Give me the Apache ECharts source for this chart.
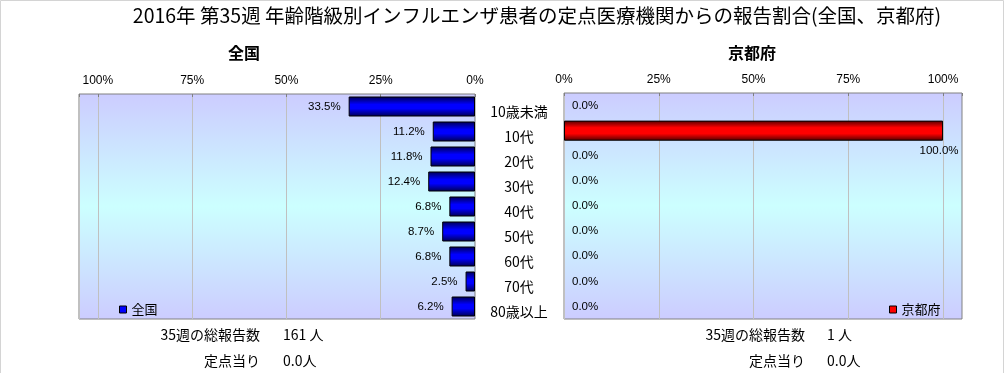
<!DOCTYPE html>
<html><head><meta charset="utf-8">
<script src="https://cdn.jsdelivr.net/npm/echarts@6/dist/echarts.min.js"></script>
<style>html,body{margin:0;padding:0;background:#fff}#c{width:1006px;height:373px}</style>
</head><body><div id="c"></div>
<script>
const categories = ['10歳未満','10代','20代','30代','40代','50代','60代','70代','80歳以上'];
const nationalValues = [33.5, 11.2, 11.8, 12.4, 6.8, 8.7, 6.8, 2.5, 6.2];
const kyotoValues = [0, 100, 0, 0, 0, 0, 0, 0, 0];
const tickValues = [0, 25, 50, 75, 100];
const titleText = '2016年 第35週 年齢階級別インフルエンザ患者の定点医療機関からの報告割合(全国、京都府)';
const leftName = '全国', rightName = '京都府';
const leftStats = ['35週の総報告数', '161 人', '定点当り', '0.0人'];
const rightStats = ['35週の総報告数', '1 人', '定点当り', '0.0人'];

const FONT = '"Noto Sans CJK JP", sans-serif';
const NUMFONT = '"Liberation Sans", Arial, sans-serif';
const bg = {type:'linear',x:0,y:0,x2:0,y2:1,colorStops:[
  {offset:0,color:'#CCCCFF'},{offset:0.5,color:'#CCFFFF'},{offset:1,color:'#CCCCFF'}]};
const blueGrad = {type:'linear',x:0,y:0,x2:0,y2:1,colorStops:[
  {offset:0,color:'#000050'},{offset:0.4,color:'#0000FF'},{offset:0.6,color:'#0000FF'},{offset:1,color:'#000050'}]};
const redGrad = {type:'linear',x:0,y:0,x2:0,y2:1,colorStops:[
  {offset:0,color:'#500000'},{offset:0.35,color:'#FF0000'},{offset:0.65,color:'#FF0000'},{offset:1,color:'#500000'}]};

function xAx(gridIndex, inverse){
  return {type:'value', gridIndex, inverse, position:'top', min:0, max:105, interval:25,
    axisLine:{show:false},
    axisTick:{show:true, inside:true, length:3, lineStyle:{color:'#808080'}},
    splitLine:{show:true, lineStyle:{color:'#C0C0C0', width:1}},
    axisLabel:{margin:7, color:'#000', fontSize:12, fontFamily:NUMFONT,
      formatter: v => tickValues.indexOf(v) >= 0 ? v + '%' : ''}};
}
const pct = p => p.value.toFixed(1) + '%';

const chart = echarts.init(document.getElementById('c'));
chart.setOption({
  animation:false,
  backgroundColor:'#fff',
  grid:[
    {left:79, top:94, width:396, height:225, show:true, backgroundColor:bg, borderColor:'#808080', borderWidth:1},
    {left:564, top:93, width:398, height:226, show:true, backgroundColor:bg, borderColor:'#808080', borderWidth:1}
  ],
  xAxis:[xAx(0,true), xAx(1,false)],
  yAxis:[
    {type:'category', gridIndex:0, data:categories, inverse:true, position:'right',
      axisLine:{show:false}, axisTick:{show:false},
      axisLabel:{margin:44, align:'center', verticalAlign:'top', lineHeight:10, color:'#000', fontSize:14, fontFamily:FONT}},
    {type:'category', gridIndex:1, data:categories, inverse:true,
      axisLine:{show:false}, axisTick:{show:false}, axisLabel:{show:false}}
  ],
  legend:[
    {data:[{name:leftName, itemStyle:{color:'#0000FF', borderColor:'#000', borderWidth:1}}],
      left:114, top:298, icon:'rect', itemWidth:7, itemHeight:7,
      textStyle:{color:'#000', fontSize:13, fontFamily:FONT}},
    {data:[{name:rightName, itemStyle:{color:'#FF0000', borderColor:'#000', borderWidth:1}}],
      left:884, top:298, icon:'rect', itemWidth:7, itemHeight:7,
      textStyle:{color:'#000', fontSize:13, fontFamily:FONT}}
  ],
  series:[
    {type:'bar', name:leftName, xAxisIndex:0, yAxisIndex:0, barCategoryGap:'20%',
      data:nationalValues.map(v => ({value:v})),
      itemStyle:{color:blueGrad, borderColor:'#000', borderWidth:1},
      label:{show:true, position:'left', distance:8, formatter:pct, color:'#000', fontSize:11.5, fontFamily:NUMFONT}},
    {type:'bar', name:rightName, xAxisIndex:1, yAxisIndex:1, barCategoryGap:'20%',
      data:kyotoValues.map(v => v === 0
        ? {value:v, itemStyle:{borderWidth:0}}
        : {value:v, label:{position:['100%','100%'], offset:[-4,4], align:'center', verticalAlign:'top'}}),
      itemStyle:{color:redGrad, borderColor:'#000', borderWidth:1},
      label:{show:true, position:'right', distance:8, formatter:pct, color:'#000', fontSize:11.5, fontFamily:NUMFONT}}
  ],
  graphic:[
    {type:'rect', shape:{x:0.5, y:0.5, width:1003, height:380}, style:{fill:'none', stroke:'#D4D4D4', lineWidth:1}, silent:true},
    {type:'text', x:537, y:16, style:{text:titleText, align:'center', verticalAlign:'middle', font:'19.5px ' + FONT, fill:'#000'}},
    {type:'text', x:244, y:53, style:{text:leftName, align:'center', verticalAlign:'middle', font:'bold 16px ' + FONT, fill:'#000'}},
    {type:'text', x:752, y:53, style:{text:rightName, align:'center', verticalAlign:'middle', font:'bold 16px ' + FONT, fill:'#000'}},
    {type:'text', x:260, y:335, style:{text:leftStats[0], align:'right', verticalAlign:'middle', font:'14px ' + FONT, fill:'#000'}},
    {type:'text', x:283, y:335, style:{text:leftStats[1], align:'left', verticalAlign:'middle', font:'14px ' + FONT, fill:'#000'}},
    {type:'text', x:260, y:361, style:{text:leftStats[2], align:'right', verticalAlign:'middle', font:'14px ' + FONT, fill:'#000'}},
    {type:'text', x:283, y:361, style:{text:leftStats[3], align:'left', verticalAlign:'middle', font:'14px ' + FONT, fill:'#000'}},
    {type:'text', x:805, y:335, style:{text:rightStats[0], align:'right', verticalAlign:'middle', font:'14px ' + FONT, fill:'#000'}},
    {type:'text', x:827, y:335, style:{text:rightStats[1], align:'left', verticalAlign:'middle', font:'14px ' + FONT, fill:'#000'}},
    {type:'text', x:805, y:361, style:{text:rightStats[2], align:'right', verticalAlign:'middle', font:'14px ' + FONT, fill:'#000'}},
    {type:'text', x:827, y:361, style:{text:rightStats[3], align:'left', verticalAlign:'middle', font:'14px ' + FONT, fill:'#000'}}
  ]
});
</script></body></html>
